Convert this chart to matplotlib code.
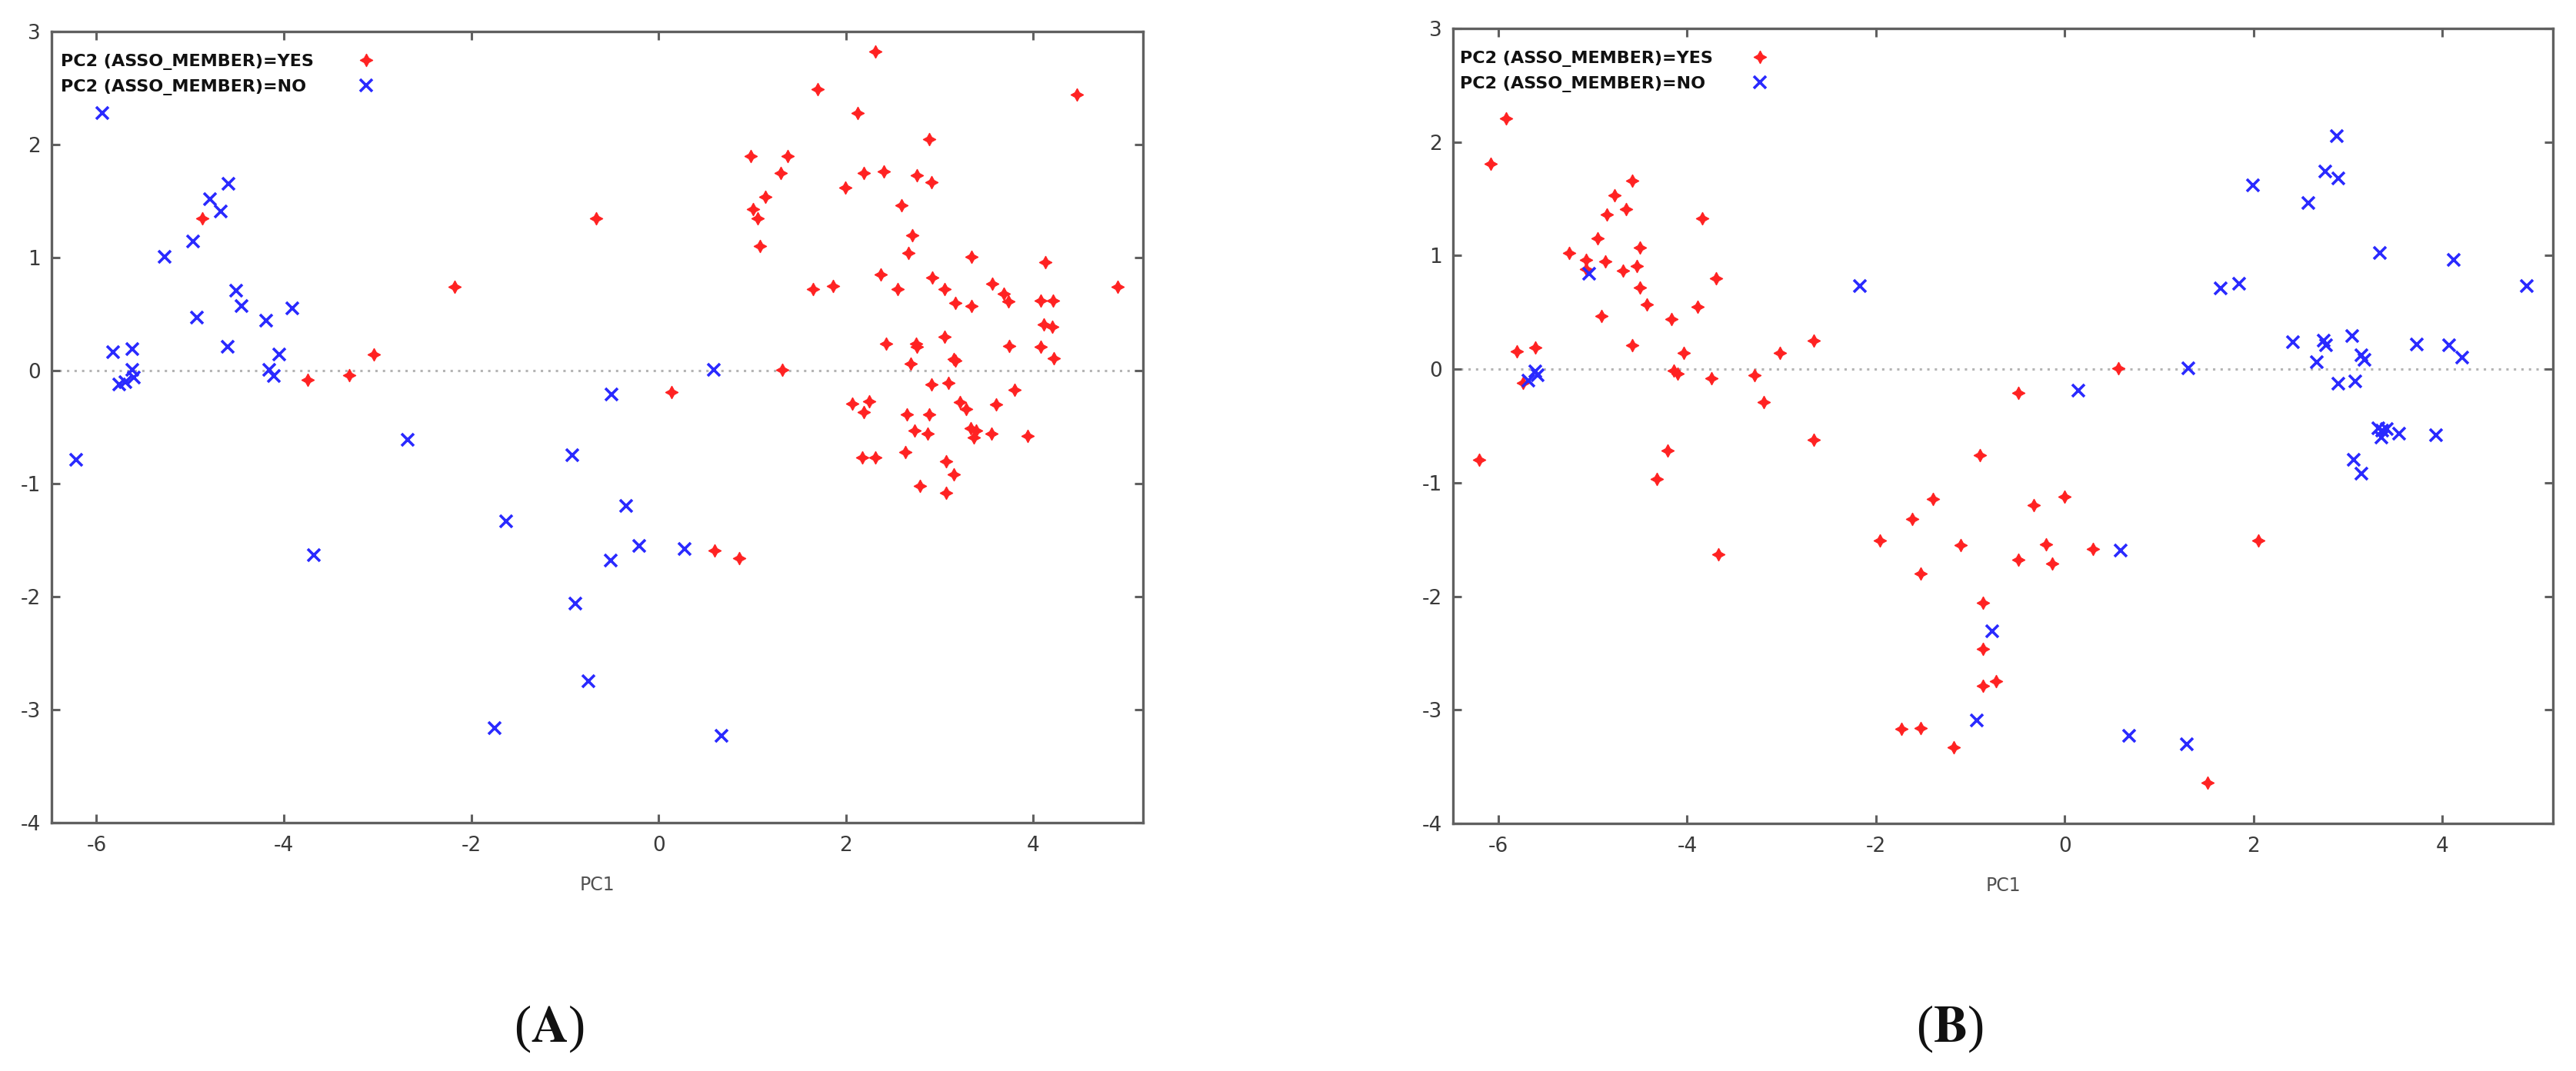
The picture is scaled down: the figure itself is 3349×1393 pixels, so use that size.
import matplotlib
matplotlib.use("Agg")
import matplotlib.pyplot as plt

plt.rcParams['font.family'] = ['DejaVu Sans']
plt.rcParams['axes.unicode_minus'] = False
plt.rcParams['mathtext.fontset'] = 'stix'

# ---------------- data ----------------
legend_labels = ["PC2 (ASSO_MEMBER)=YES", "PC2 (ASSO_MEMBER)=NO"]
x_ticks = [-6, -4, -2, 0, 2, 4]
y_ticks = [-4, -3, -2, -1, 0, 1, 2, 3]
panel_labels = ["A", "B"]
x_label = "PC1"

# Panel A
a_yes_x = [-4.87, -3.75, -3.30, -3.04, -2.18, -0.67, 0.14,
           2.31, 1.70, 4.46, 2.12, 2.89, 0.98, 1.38, 1.30, 2.19, 2.40, 2.76, 2.91, 1.99,
           1.14, 1.01, 1.06, 2.59, 2.71, 1.08, 2.67, 3.34, 4.13, 2.37, 2.92, 1.65, 1.86,
           2.55, 3.05, 3.56, 3.68, 3.73, 3.17, 3.34, 4.08, 4.21, 4.90, 4.11, 4.20, 3.05,
           2.43, 2.75, 2.76, 3.74, 4.08, 4.22, 3.15, 3.17, 2.69, 1.32, 2.91, 3.09, 3.80,
           2.07, 2.25, 2.19, 3.22, 3.28, 3.60, 2.65, 2.89, 3.33, 3.39, 3.36, 2.73, 2.87,
           3.55, 3.94, 2.63, 2.17, 2.31, 3.07, 3.15, 2.79, 3.07, 0.60, 0.86]
a_yes_y = [1.35, -0.08, -0.04, 0.14, 0.74, 1.35, -0.19,
           2.82, 2.49, 2.44, 2.28, 2.05, 1.90, 1.90, 1.75, 1.75, 1.76, 1.73, 1.67, 1.62,
           1.54, 1.43, 1.35, 1.46, 1.20, 1.10, 1.04, 1.01, 0.96, 0.85, 0.82, 0.72, 0.75,
           0.72, 0.72, 0.77, 0.68, 0.61, 0.60, 0.57, 0.62, 0.62, 0.74, 0.41, 0.39, 0.30,
           0.24, 0.24, 0.21, 0.22, 0.21, 0.11, 0.10, 0.09, 0.06, 0.01, -0.12, -0.11, -0.17,
           -0.29, -0.27, -0.37, -0.28, -0.34, -0.30, -0.39, -0.39, -0.51, -0.53, -0.59, -0.53, -0.56,
           -0.56, -0.58, -0.72, -0.77, -0.77, -0.80, -0.92, -1.02, -1.08, -1.59, -1.66]
a_no_x = [-5.94, -5.82, -5.62, -5.76, -5.69, -5.62, -5.60, -5.27, -4.97, -4.93, -4.79,
          -4.67, -4.59, -4.60, -4.51, -4.45, -4.19, -4.16, -4.11, -4.05, -3.91, -2.68,
          -0.50, -0.92, -6.22, 0.59, -0.35, -0.21, 0.28, 0.67, -1.63, -3.68, -0.51,
          -0.89, -0.75, -1.75]
a_no_y = [2.28, 0.16, 0.19, -0.12, -0.10, 0.01, -0.06, 1.01, 1.14, 0.47, 1.52,
          1.41, 1.65, 0.21, 0.71, 0.57, 0.44, 0.01, -0.05, 0.14, 0.55, -0.61,
          -0.21, -0.75, -0.79, 0.01, -1.20, -1.55, -1.58, -3.23, -1.33, -1.63, -1.68,
          -2.06, -2.75, -3.16]

# Panel B
b_yes_x = [-5.92, -6.08, -4.58, -4.77, -4.65, -4.85, -3.84, -4.95, -4.50, -5.25, -5.07,
           -4.87, -5.07, -4.53, -4.68, -3.69, -4.50, -4.43, -3.89, -4.91, -4.17, -5.80,
           -5.61, -4.58, -4.04, -3.02, -2.66, -4.14, -4.10, -3.74, -3.29, -5.74, -3.19,
           -2.66, -4.21, -6.20, -0.90, -0.49, 0.57, 0.00, -0.33, -1.10, -0.20, 0.30,
           -0.49, -0.13, 2.05, -0.87, -0.87, -0.87, -0.73, 1.51, -4.32, -3.67, -1.40,
           -1.62, -1.96, -1.53, -1.73, -1.53, -1.18]
b_yes_y = [2.21, 1.81, 1.66, 1.53, 1.41, 1.36, 1.33, 1.15, 1.07, 1.02, 0.96,
           0.95, 0.88, 0.91, 0.87, 0.80, 0.72, 0.57, 0.55, 0.47, 0.44, 0.16,
           0.19, 0.21, 0.14, 0.14, 0.25, -0.01, -0.04, -0.08, -0.05, -0.12, -0.29,
           -0.62, -0.72, -0.80, -0.76, -0.21, 0.01, -1.12, -1.20, -1.55, -1.54, -1.58,
           -1.68, -1.71, -1.51, -2.06, -2.46, -2.79, -2.75, -3.64, -0.97, -1.63, -1.14,
           -1.32, -1.51, -1.80, -3.17, -3.16, -3.33]
b_no_x = [-5.04, -5.61, -5.68, -5.58, -2.17, 0.14, 1.31, 2.88, 2.76, 2.90, 1.99, 2.58,
          3.34, 4.12, 1.65, 1.85, 4.89, 2.42, 2.74, 2.77, 3.04, 3.73, 4.07, 4.21, 3.14,
          3.17, 2.67, 2.90, 3.08, 3.32, 3.36, 3.41, 3.35, 3.54, 3.93, 3.06, 3.14, 0.59,
          -0.77, -0.93, 0.68, 1.29]
b_no_y = [0.84, -0.02, -0.10, -0.05, 0.73, -0.19, 0.01, 2.05, 1.74, 1.68, 1.62, 1.46,
          1.02, 0.96, 0.71, 0.75, 0.73, 0.24, 0.25, 0.21, 0.29, 0.22, 0.21, 0.10, 0.12,
          0.08, 0.06, -0.13, -0.11, -0.52, -0.54, -0.53, -0.60, -0.57, -0.58, -0.80, -0.92, -1.60,
          -2.31, -3.09, -3.23, -3.30]

panels = [
    (a_yes_x, a_yes_y, a_no_x, a_no_y),
    (b_yes_x, b_yes_y, b_no_x, b_no_y),
]

# ---------------- figure ----------------
W, H, DPI = 3349, 1393, 100
fig = plt.figure(figsize=(W / DPI, H / DPI), dpi=DPI)

# axes boxes in pixels: left, top, right, bottom
ax_px = [(67, 41, 1486, 1070), (1889, 37, 3319, 1071)]
# legend: text start / marker centre, px from left spine
leg_px = [(12, 409), (9, 399)]
label_x_px = [714, 2535]

RED = '#ff2222'
BLUE = '#2a2aff'
SPINE = '#606060'
TXT = '#3a3a3a'
LEG_FS = 16

axes, legends = [], []
for i, (yx, yy, nx, ny) in enumerate(panels):
    l, t, r, b = ax_px[i]
    ax = fig.add_axes([l / W, 1 - b / H, (r - l) / W, (b - t) / H])
    ax.axhline(0, color='#b4b4b4', lw=2.2, linestyle=(0, (1, 2.2)), zorder=1)
    ax.plot(yx, yy, linestyle='none', marker=(4, 1, 0), ms=12, mew=0.8,
            color=RED, mec=RED, label=legend_labels[0], zorder=3)
    ax.plot(nx, ny, linestyle='none', marker='x', ms=12, mew=2.6,
            color=BLUE, label=legend_labels[1], zorder=4)
    ax.set_xlim(-6.48, 5.17)
    ax.set_ylim(-4, 3)
    ax.set_xticks(x_ticks)
    ax.set_yticks(y_ticks)
    ax.set_xticklabels([str(v) for v in x_ticks])
    ax.set_yticklabels([str(v) for v in y_ticks])
    for s in ax.spines.values():
        s.set_color(SPINE)
        s.set_linewidth(2.4)
    ax.tick_params(direction='in', length=8, width=2.2, color=SPINE,
                   top=True, right=True, labelsize=19, labelcolor=TXT)
    ax.tick_params(axis='x', pad=12)
    ax.tick_params(axis='y', pad=10)
    ax.set_xlabel(x_label, fontsize=17, color='#505050', labelpad=19)
    tx, mx = leg_px[i]
    leg = ax.legend(loc='upper left', bbox_to_anchor=(tx / (r - l), 1 - 29 / (b - t)),
                    markerfirst=False, frameon=False,
                    prop={'size': LEG_FS, 'weight': 'bold'},
                    borderaxespad=0, borderpad=0, handlelength=1.0,
                    handletextpad=2.5, labelspacing=0.55, labelcolor='#111111')
    axes.append(ax)
    legends.append(leg)
    fig.text(label_x_px[i] / W, 1 - 1338 / H, r"($\mathbf{%s}$)" % panel_labels[i],
             fontsize=48, family='Liberation Serif', ha='center', va='center',
             color='#111111')

# left-align legend texts while keeping the sample markers in one column
fig.canvas.draw()
renderer = fig.canvas.get_renderer()
fs_px = LEG_FS * DPI / 72.0
for i, leg in enumerate(legends):
    tx, mx = leg_px[i]
    try:
        widths = [tt.get_window_extent(renderer).width for tt in leg.get_texts()]
        col = leg._legend_handle_box.get_children()[0]
        col.align = 'left'
        hl_px = leg.handlelength * fs_px
        for row, w in zip(col.get_children(), widths):
            row.align = 'top'
            gap = (mx - tx) - w - hl_px / 2.0
            row.sep = gap * 72.0 / DPI
    except Exception:
        pass

fig.savefig("out.png", dpi=DPI)
